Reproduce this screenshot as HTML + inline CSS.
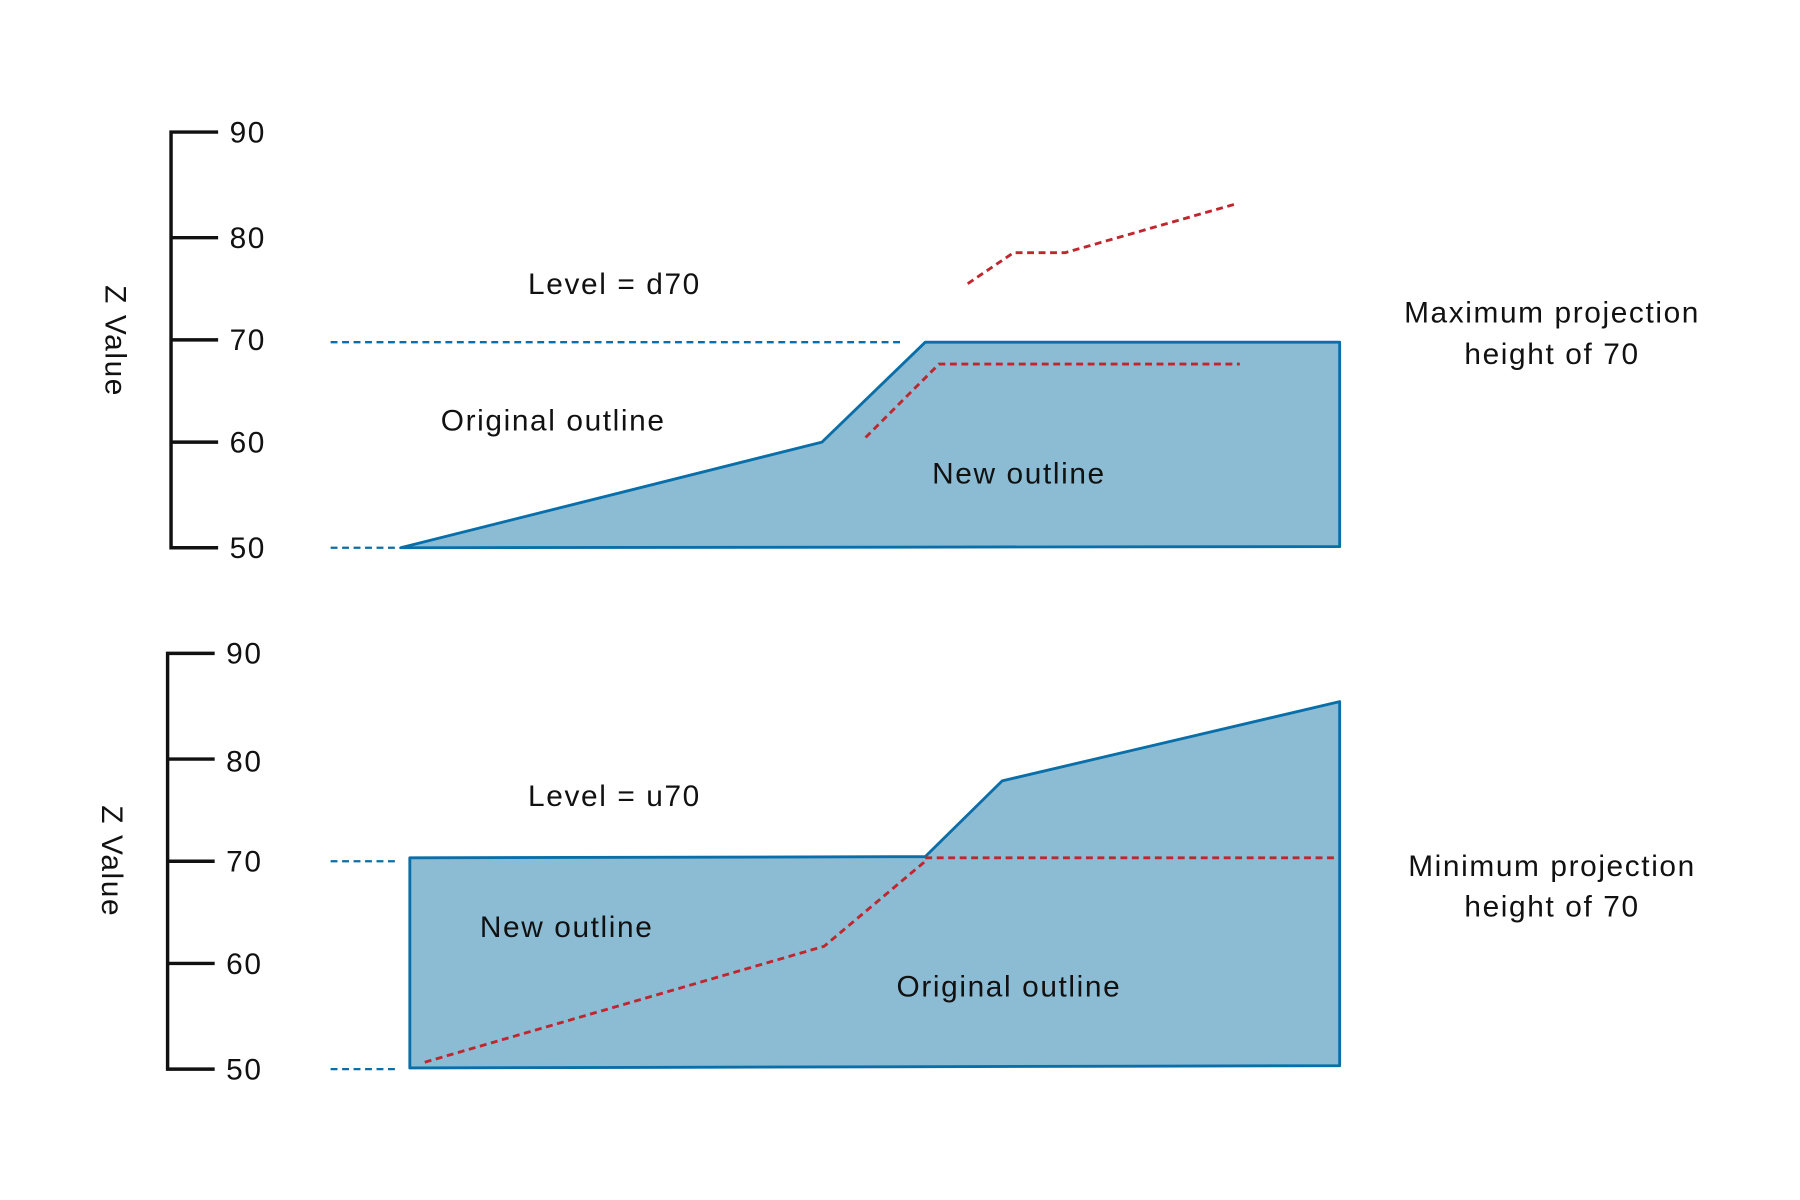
<!DOCTYPE html>
<html><head><meta charset="utf-8"><style>html,body{margin:0;padding:0;background:#fff}svg{display:block}</style></head>
<body>
<svg width="1800" height="1200" viewBox="0 0 1568 1045" preserveAspectRatio="none" xmlns="http://www.w3.org/2000/svg" font-family="Liberation Sans, sans-serif" font-size="26" letter-spacing="1.4" fill="#111">
<rect width="1568" height="1045" fill="#fff"/>
<g stroke="#111" stroke-width="3" fill="none">
<polyline points="190,115 149,115 149,477 190,477"/>
<line x1="149" y1="207" x2="190" y2="207"/><line x1="149" y1="296" x2="190" y2="296"/><line x1="149" y1="385" x2="190" y2="385"/>
<polyline points="187,569 146,569 146,931 187,931"/>
<line x1="146" y1="661" x2="187" y2="661"/><line x1="146" y1="750" x2="187" y2="750"/><line x1="146" y1="839" x2="187" y2="839"/>
</g>
<g>
<text x="200" y="124">90</text><text x="200" y="216">80</text><text x="200" y="305">70</text><text x="200" y="394">60</text><text x="200" y="486">50</text>
<text x="197" y="578">90</text><text x="197" y="672">80</text><text x="197" y="759">70</text><text x="197" y="848">60</text><text x="197" y="940">50</text>
<text transform="translate(92,297) rotate(90)" text-anchor="middle">Z Value</text>
<text transform="translate(89,750) rotate(90)" text-anchor="middle">Z Value</text>
</g>
<polygon points="349,477 716,385 806,298 1167,298 1167,476" fill="#8bbcd4" stroke="#0a6fa8" stroke-width="2.5" stroke-linejoin="round"/>
<polygon points="357,747 806,746 873,680 1167,611 1167,928 357,930" fill="#8bbcd4" stroke="#0a6fa8" stroke-width="2.5" stroke-linejoin="round"/>
<g stroke="#0a6fa8" stroke-width="2" stroke-dasharray="6,4" fill="none">
<line x1="288" y1="298" x2="785" y2="298"/><line x1="288" y1="477" x2="347" y2="477"/>
<line x1="288" y1="750" x2="347" y2="750"/><line x1="288" y1="931" x2="347" y2="931"/>
</g>
<g stroke="#c0262e" stroke-width="2.5" stroke-dasharray="6,4" fill="none">
<polyline points="843,247 883,220 928,220 1075,178"/>
<polyline points="754,381 818,317 1080,317"/>
<polyline points="370,925 718,824 806,750"/>
<line x1="806" y1="747" x2="1165" y2="747"/>
</g>
<text x="460" y="256">Level = d70</text>
<text x="384" y="375">Original outline</text>
<text x="812" y="421">New outline</text>
<text x="1352" y="281" text-anchor="middle">Maximum projection</text>
<text x="1352" y="317" text-anchor="middle">height of 70</text>
<text x="460" y="702">Level = u70</text>
<text x="418" y="816">New outline</text>
<text x="781" y="868">Original outline</text>
<text x="1352" y="763" text-anchor="middle">Minimum projection</text>
<text x="1352" y="798" text-anchor="middle">height of 70</text>
</svg>
</body></html>
